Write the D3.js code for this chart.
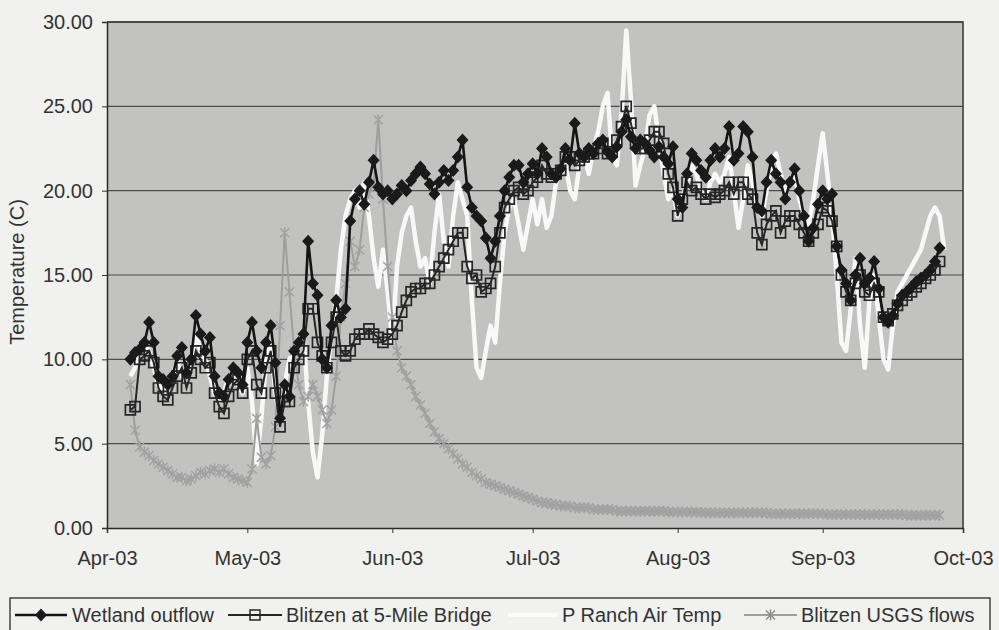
<!DOCTYPE html>
<html><head><meta charset="utf-8">
<script src="https://cdn.jsdelivr.net/npm/d3@7"></script>
<style>
html,body{margin:0;padding:0;background:#f1f1ef;}
svg{display:block;font-family:"Liberation Sans",Arial,sans-serif;}
</style></head>
<body><svg id="c" width="999" height="630"></svg>
<script>
// ---- data (daily values, first value = Apr 6 2003) ----
const firstDay = "2003-04-06";
const yTicks = [0, 5, 10, 15, 20, 25, 30];
const monthTicks = ["2003-04-01","2003-05-01","2003-06-01","2003-07-01","2003-08-01","2003-09-01","2003-10-01"];
const monthLabels = ["Apr-03","May-03","Jun-03","Jul-03","Aug-03","Sep-03","Oct-03"];
const seriesNames = ["Wetland outflow","Blitzen at 5-Mile Bridge","P Ranch Air Temp","Blitzen USGS flows"];

const wetland = [
10.0,10.4,10.6,11.0,12.2,11.0,9.0,8.8,8.5,9.0,
10.2,10.7,9.2,10.0,12.6,11.5,10.5,11.3,9.0,8.0,
7.8,8.8,9.5,9.2,8.5,11.0,12.2,10.5,9.5,11.0,
12.0,9.8,6.5,8.5,7.8,10.5,11.0,11.5,17.0,14.5,
13.8,10.0,9.5,12.0,13.5,12.5,13.0,18.2,19.5,20.0,
19.2,20.5,21.8,20.2,19.8,20.0,19.5,19.8,20.3,20.0,
20.6,21.0,21.4,21.0,20.4,19.8,20.5,21.2,20.6,21.2,
22.0,23.0,20.2,19.0,18.5,18.2,17.2,16.0,17.0,18.5,
20.0,20.8,21.5,21.5,20.5,21.0,21.6,21.0,22.5,22.0,
21.0,20.8,21.3,22.5,21.8,24.0,22.2,22.0,22.5,22.2,
22.8,23.0,22.3,22.0,22.6,23.5,24.2,23.2,22.5,23.0,
22.8,22.4,22.0,22.6,22.0,21.6,22.6,19.5,19.0,21.0,
22.2,21.8,21.2,20.8,21.8,22.5,22.0,22.5,23.8,21.8,
22.2,23.8,23.5,22.0,19.0,18.8,20.5,21.8,21.0,20.5,
19.5,20.5,21.3,20.0,18.5,17.0,17.8,19.2,20.0,19.5,
19.8,16.7,15.3,14.5,13.5,15.0,16.0,14.5,14.8,15.8,
14.2,12.5,12.2,12.6,13.3,13.8,14.0,14.3,14.6,14.8,
15.0,15.3,15.8,16.6];

const blitzen = [
7.0,7.2,10.0,10.2,10.5,9.8,8.3,7.8,7.6,8.3,
9.0,9.5,8.3,9.2,10.5,10.0,9.5,9.8,8.0,7.2,
6.8,7.8,8.5,8.8,8.0,10.0,10.5,8.5,8.0,9.5,
10.5,8.0,6.0,7.5,7.5,9.5,10.0,10.5,13.0,13.0,
11.0,10.2,9.5,11.0,12.5,10.5,10.2,10.5,11.2,11.5,
11.5,11.8,11.5,11.3,11.0,11.2,11.5,12.0,12.8,13.5,
14.0,14.2,14.2,14.5,14.5,15.0,15.5,16.0,16.5,17.0,
17.5,17.5,15.5,14.8,15.0,14.0,14.2,14.5,15.5,17.5,
19.0,19.5,20.0,20.2,19.8,20.0,20.5,20.8,21.5,21.0,
20.8,21.0,21.2,22.0,22.0,21.5,21.8,22.0,22.2,22.2,
22.5,22.8,22.2,22.3,23.0,23.8,25.0,24.0,22.8,22.5,
22.5,23.0,23.5,23.5,22.8,21.0,20.2,18.5,19.5,20.5,
20.0,20.2,19.8,19.5,19.8,19.6,19.8,20.0,20.5,19.8,
20.5,20.5,19.8,19.5,17.5,16.8,18.0,18.5,18.8,17.5,
18.2,18.5,18.5,18.0,17.5,17.0,17.5,18.0,19.0,18.8,
18.2,16.7,15.0,14.0,13.5,14.5,15.0,14.0,13.8,14.5,
14.0,12.5,12.3,12.7,13.2,13.5,13.8,14.0,14.3,14.5,
14.8,15.0,15.3,15.8];

const airTemp = [
9.0,9.5,10.5,11.0,10.5,9.5,8.5,8.0,8.5,9.0,
10.0,9.0,9.0,10.0,11.5,10.5,10.0,9.0,8.0,7.5,
8.0,9.0,9.0,8.5,8.0,9.5,7.5,3.8,6.5,10.0,
11.0,8.0,6.5,8.5,10.0,10.5,11.0,11.5,7.5,4.5,
3.0,5.5,9.0,11.5,13.5,16.5,18.5,19.5,20.0,19.0,
20.5,18.5,16.0,14.3,16.5,14.0,11.0,15.5,17.5,18.5,
19.0,17.0,15.5,16.0,14.5,17.5,19.8,17.0,15.5,18.5,
20.5,19.5,18.5,13.5,9.5,8.9,10.5,12.0,11.0,14.5,
17.5,19.0,19.5,18.0,16.5,18.0,19.5,18.0,19.5,17.8,
18.5,20.5,21.0,21.5,20.0,19.5,21.5,22.0,21.0,22.5,
23.5,25.0,25.8,22.0,21.5,24.5,29.5,25.5,20.3,21.5,
22.5,24.5,25.0,23.0,21.0,19.5,20.0,18.5,19.5,20.5,
21.5,21.0,20.0,19.5,20.5,21.0,20.5,21.0,22.0,20.0,
17.8,19.5,21.5,20.5,19.0,18.5,20.0,21.5,22.2,21.0,
20.0,20.5,21.0,19.5,18.5,18.0,19.5,21.5,23.4,21.0,
18.5,15.0,11.0,10.5,13.0,16.0,12.0,9.5,13.5,15.0,
12.5,10.0,9.4,12.0,14.0,14.5,15.0,15.5,16.0,16.5,
17.5,18.5,19.0,18.5,16.5];

const usgsFlows = [
8.5,5.8,4.8,4.5,4.3,4.0,3.8,3.6,3.4,3.2,
3.0,3.0,2.8,2.9,3.1,3.3,3.2,3.4,3.5,3.3,
3.5,3.2,3.0,2.9,2.8,2.7,3.5,6.5,4.2,3.8,
4.3,6.0,12.0,17.5,14.0,10.5,8.5,7.5,7.8,8.5,
7.8,7.0,6.2,7.0,9.0,12.5,14.5,17.0,15.5,16.5,
19.0,19.8,20.5,24.2,19.5,15.5,12.5,10.5,9.5,9.0,
8.5,7.8,7.3,6.8,6.2,5.7,5.3,5.0,4.7,4.4,
4.1,3.8,3.6,3.3,3.1,2.9,2.7,2.6,2.5,2.4,
2.3,2.2,2.1,2.0,1.9,1.8,1.7,1.6,1.5,1.5,
1.4,1.4,1.3,1.3,1.3,1.2,1.2,1.2,1.2,1.1,
1.1,1.1,1.1,1.1,1.0,1.0,1.0,1.0,1.0,1.0,
1.0,1.0,1.0,1.0,1.0,0.95,0.95,0.95,0.95,0.95,
0.95,0.95,0.9,0.9,0.9,0.9,0.9,0.9,0.9,0.9,
0.9,0.9,0.9,0.9,0.9,0.9,0.9,0.85,0.85,0.85,
0.85,0.85,0.85,0.85,0.85,0.85,0.85,0.85,0.85,0.8,
0.8,0.8,0.8,0.8,0.8,0.8,0.8,0.8,0.8,0.8,
0.8,0.8,0.8,0.8,0.8,0.8,0.75,0.75,0.75,0.75,
0.75,0.75,0.75,0.75];

// ---- build ----
const parse = d3.utcParse("%Y-%m-%d");
const day0 = parse(firstDay);
const toPts = arr => arr.map((v, i) => ({date: d3.utcDay.offset(day0, i), v}));

const svg = d3.select("#c");
const L = 107, R = 963, T = 22, B = 528;
const x = d3.scaleUtc().domain([parse(monthTicks[0]), parse(monthTicks[monthTicks.length-1])]).range([L, R]);
const y = d3.scaleLinear().domain([0, 30]).range([B, T]);

svg.append("rect").attr("x", L).attr("y", T).attr("width", R - L).attr("height", B - T).attr("fill", "#c2c2c0");

// gridlines
svg.append("g").selectAll("line").data(yTicks.filter(t => t > 0)).join("line")
  .attr("x1", L).attr("x2", R).attr("y1", d => y(d)).attr("y2", d => y(d))
  .attr("stroke", "#4d4d4d").attr("stroke-width", 1.2);

// axes
const yAxis = svg.append("g").attr("transform", `translate(${L},0)`)
  .call(d3.axisLeft(y).tickValues(yTicks).tickFormat(d3.format(".2f")).tickSize(5).tickPadding(9));
const xAxis = svg.append("g").attr("transform", `translate(0,${B})`)
  .call(d3.axisBottom(x).tickValues(monthTicks.map(parse)).tickFormat((d, i) => monthLabels[i]).tickSize(5).tickPadding(18));
[yAxis, xAxis].forEach(g => {
  g.selectAll("text").attr("font-size", 20).attr("fill", "#333").attr("font-family", "Liberation Sans, Arial, sans-serif");
  g.selectAll("line").attr("stroke", "#333");
  g.select(".domain").attr("stroke", "#2a2a2a").attr("stroke-width", 1.5);
});
// plot frame top/right
svg.append("path").attr("d", `M${L},${T}H${R}V${B}`).attr("fill", "none").attr("stroke", "#333").attr("stroke-width", 1.5);

svg.append("text").attr("transform", "translate(24,272) rotate(-90)")
  .attr("text-anchor", "middle").attr("font-size", 20).attr("fill", "#333").text("Temperature (C)");

const line = d3.line().x(d => x(d.date)).y(d => y(d.v));
const plot = svg.append("g");

const diamondPath = "M0,-6.5L6,0L0,6.5L-6,0Z";
const squarePath = "M-5,-5H5V5H-5Z";
const starPath = "M-4.5,-4.5L4.5,4.5M-4.5,4.5L4.5,-4.5M0,-5.5L0,5.5";

// P Ranch air temp (white, behind)
plot.append("path").datum(toPts(airTemp)).attr("d", line)
  .attr("fill", "none").attr("stroke", "#f8f8f8").attr("stroke-width", 4.5).attr("stroke-linejoin", "round");

// USGS flows
const usgsPts = toPts(usgsFlows);
plot.append("path").datum(usgsPts).attr("d", line).attr("fill", "none").attr("stroke", "#9e9e9e").attr("stroke-width", 2);
plot.append("g").selectAll("path").data(usgsPts).join("path")
  .attr("transform", d => `translate(${x(d.date)},${y(d.v)})`).attr("d", starPath)
  .attr("fill", "none").attr("stroke", "#a2a2a2").attr("stroke-width", 1.5);

// Blitzen 5-Mile
const bPts = toPts(blitzen);
plot.append("path").datum(bPts).attr("d", line).attr("fill", "none").attr("stroke", "#262626").attr("stroke-width", 2);
plot.append("g").selectAll("path").data(bPts).join("path")
  .attr("transform", d => `translate(${x(d.date)},${y(d.v)})`).attr("d", squarePath)
  .attr("fill", "none").attr("stroke", "#262626").attr("stroke-width", 1.7);

// Wetland outflow
const wPts = toPts(wetland);
plot.append("path").datum(wPts).attr("d", line).attr("fill", "none").attr("stroke", "#141414").attr("stroke-width", 2.6);
plot.append("g").selectAll("path").data(wPts).join("path")
  .attr("transform", d => `translate(${x(d.date)},${y(d.v)})`).attr("d", diamondPath)
  .attr("fill", "#1a1a1a");

// legend
const lg = svg.append("g");
lg.append("rect").attr("x", 10).attr("y", 598).attr("width", 980).attr("height", 45)
  .attr("fill", "none").attr("stroke", "#2a2a2a").attr("stroke-width", 1.3);
const ly = 615;
const items = [
  {x0: 15, x1: 67, tx: 72, stroke: "#141414", w: 2.4, mark: diamondPath, mfill: "#1a1a1a", mstroke: "none"},
  {x0: 228, x1: 282, tx: 286, stroke: "#262626", w: 2, mark: squarePath, mfill: "none", mstroke: "#262626"},
  {x0: 508, x1: 558, tx: 562, stroke: "#fbfbfb", w: 4, mark: null},
  {x0: 744, x1: 797, tx: 801, stroke: "#9e9e9e", w: 1.8, mark: starPath, mfill: "none", mstroke: "#8e8e8e"}
];
items.forEach((it, i) => {
  lg.append("line").attr("x1", it.x0).attr("x2", it.x1).attr("y1", ly).attr("y2", ly)
    .attr("stroke", it.stroke).attr("stroke-width", it.w);
  if (it.mark) lg.append("path").attr("transform", `translate(${(it.x0 + it.x1) / 2},${ly})`).attr("d", it.mark)
    .attr("fill", it.mfill).attr("stroke", it.mstroke).attr("stroke-width", 1.5);
  lg.append("text").attr("x", it.tx).attr("y", ly).attr("dy", "0.35em").attr("font-size", 20)
    .attr("fill", "#333").text(seriesNames[i]);
});
</script></body></html>
